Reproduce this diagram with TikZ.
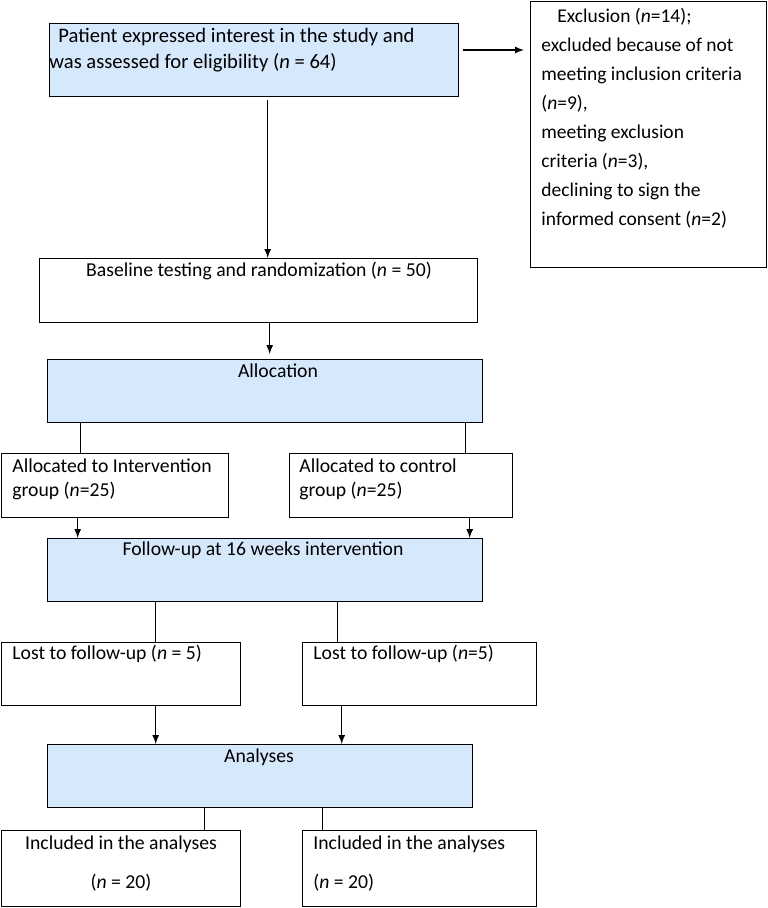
\documentclass[tikz,border=0pt]{standalone}
\usepackage{fontspec}
\setmainfont{Carlito}
\usetikzlibrary{positioning}
\definecolor{boxblue}{RGB}{214,232,251}
\newcommand{\nn}{\textit{n}}

\begin{document}
\begin{tikzpicture}[x=0.5pt, y=-0.5pt, >=latex,
    block/.style={draw, line width=0.7pt, inner sep=0pt, anchor=north west},
    shaded/.style={block, fill=boxblue},
    txt/.style={inner sep=0pt, font=\fontsize{9.85pt}{12pt}\selectfont},
    line/.style={line width=0.55pt}]
        \useasboundingbox (0,0) rectangle (767,908);
        % boxes
        \node[shaded, minimum width=204.5pt, minimum height=36.5pt] (patient) at (49,23) {};
        \node[block, minimum width=118pt, minimum height=133pt] (excl) at (530,1) {};
        \node[block, minimum width=219pt, minimum height=32pt] (base) at (39,258) {};
        \node[shaded, minimum width=217.5pt, minimum height=31.5pt] (alloc) at (47,359) {};
        \node[block, minimum width=113.5pt, minimum height=32pt] (allocI) at (1,453) {};
        \node[block, minimum width=111.5pt, minimum height=32pt] (allocC) at (289,453) {};
        \node[shaded, minimum width=217.5pt, minimum height=31.5pt] (follow) at (47,538) {};
        \node[block, minimum width=119.5pt, minimum height=31.5pt] (lostI) at (1,642) {};
        \node[block, minimum width=117pt, minimum height=31.5pt] (lostC) at (302,642) {};
        \node[shaded, minimum width=212.5pt, minimum height=31.5pt] (anal) at (47,744) {};
        \node[block, minimum width=119.5pt, minimum height=38pt] (inclI) at (1,830) {};
        \node[block, minimum width=117pt, minimum height=38pt] (inclC) at (302,830) {};
        % texts
        \node[txt, anchor=west, align=left, font=\fontsize{10.3pt}{13pt}\selectfont] (patient-t) at (49,50)
            {\hspace{4.5pt}Patient expressed interest in the study and\\was assessed for eligibility (\nn{} = 64)};
        \node[txt, anchor=west, align=left, font=\fontsize{9.75pt}{14.5pt}\selectfont] (excl-t) at (541,118)
            {\hspace{8pt}Exclusion (\nn=14);\\excluded because of not\\meeting inclusion criteria\\(\nn=9),\\meeting exclusion\\criteria (\nn=3),\\declining to sign the\\informed consent (\nn=2)};
        \node[txt] (base-t) at (259,271) {Baseline testing and randomization (\nn{} = 50)};
        \node[txt] (alloc-t) at (278,371) {Allocation};
        \node[txt, anchor=west, align=left] (allocI-t) at (12,479) {Allocated to Intervention\\group (\nn=25)};
        \node[txt, anchor=west, align=left] (allocC-t) at (299,479) {Allocated to control\\group (\nn=25)};
        \node[txt] (follow-t) at (263,550) {Follow-up at 16 weeks intervention};
        \node[txt, anchor=west] (lostI-t) at (12,654) {Lost to follow-up (\nn{} = 5)};
        \node[txt, anchor=west] (lostC-t) at (313,654) {Lost to follow-up (\nn=5)};
        \node[txt] (anal-t) at (259,757) {Analyses};
        \node[txt, align=center, font=\fontsize{9.85pt}{19.5pt}\selectfont] (inclI-t) at (121,863.5) {Included in the analyses\\(\nn{} = 20)};
        \node[txt, anchor=west, align=left, font=\fontsize{9.85pt}{19.5pt}\selectfont] (inclC-t) at (313,863.5) {Included in the analyses\\(\nn{} = 20)};
        % connectors
        \draw[line, ->] ([xshift=2pt]patient.east |- patient-t) -- ([xshift=-3pt]excl.west |- patient-t);
        \draw[line, ->] ([xshift=6.75pt,yshift=-1.5pt]patient.south) -- ([xshift=6.75pt]patient.south |- base.north);
        \draw[line, ->] ([xshift=5.5pt]base.south) -- ([xshift=5.5pt,yshift=2.5pt]base.south |- alloc.north);
        \draw[line] ([xshift=-17.25pt]allocI.north) -- ([xshift=-17.25pt]allocI.north |- alloc.south);
        \draw[line] ([xshift=32.25pt]allocC.north) -- ([xshift=32.25pt]allocC.north |- alloc.south);
        \draw[line, ->] ([xshift=-18.75pt]allocI.south) -- ([xshift=-18.75pt]allocI.south |- follow.north);
        \draw[line, ->] ([xshift=34.25pt]allocC.south) -- ([xshift=34.25pt]allocC.south |- follow.north);
        \draw[line] ([xshift=17.25pt]lostI.north) -- ([xshift=17.25pt]lostI.north |- follow.south);
        \draw[line] ([xshift=-41pt]lostC.north) -- ([xshift=-41pt]lostC.north |- follow.south);
        \draw[line, ->] ([xshift=17.25pt]lostI.south) -- ([xshift=17.25pt]lostI.south |- anal.north);
        \draw[line, ->] ([xshift=-39pt]lostC.south) -- ([xshift=-39pt]lostC.south |- anal.north);
        \draw[line] ([xshift=41.75pt]inclI.north) -- ([xshift=41.75pt]inclI.north |- anal.south);
        \draw[line] ([xshift=-48.5pt]inclC.north) -- ([xshift=-48.5pt]inclC.north |- anal.south);
      \end{tikzpicture}
\end{document}
